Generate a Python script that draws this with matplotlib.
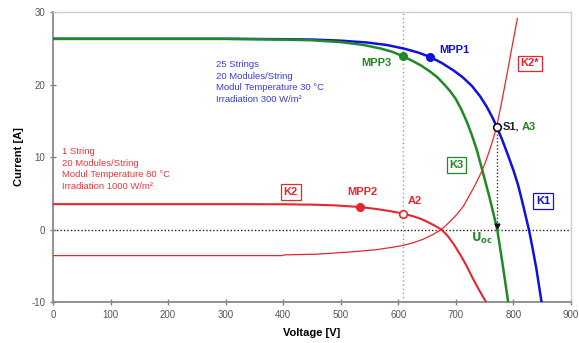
import matplotlib
matplotlib.use("Agg")
import matplotlib.pyplot as plt

plt.rcParams['font.family'] = ['Liberation Sans', 'DejaVu Sans']
plt.rcParams['axes.unicode_minus'] = False

# ---- data ----
k1_v = [0, 300, 400, 450, 500, 545, 580, 610, 635, 655, 675, 695, 712, 728, 742, 754, 764, 771, 780, 790, 800, 808, 815, 821, 827, 833, 840, 849]
k1_i = [26.3, 26.3, 26.25, 26.2, 26.05, 25.8, 25.45, 24.95, 24.4, 23.8, 23.0, 22.0, 21.0, 19.8, 18.4, 16.9, 15.4, 14.2, 12.5, 10.4, 8.2, 6.2, 4.0, 2.0, 0.0, -2.4, -5.4, -10.0]

k3_v = [0, 300, 400, 450, 500, 540, 570, 590, 608, 625, 640, 655, 668, 680, 690, 700, 710, 720, 728, 736, 745, 752, 759, 766, 772, 781, 791]
k3_i = [26.3, 26.3, 26.2, 26.1, 25.85, 25.45, 24.95, 24.5, 23.9, 23.25, 22.6, 21.8, 21.0, 20.0, 19.1, 18.0, 16.5, 14.7, 13.0, 11.1, 8.5, 6.4, 4.3, 2.0, 0.0, -4.6, -10.0]

k2_v = [0, 300, 400, 450, 490, 533, 560, 585, 608, 625, 640, 652, 663, 675, 686, 697, 708, 718, 728, 738, 746, 754]
k2_i = [3.5, 3.5, 3.48, 3.43, 3.33, 3.1, 2.85, 2.55, 2.2, 1.85, 1.45, 1.0, 0.55, 0.0, -0.9, -2.1, -3.5, -4.9, -6.5, -8.0, -9.1, -10.2]

k2s_v = [0, 398, 402, 460, 516, 560, 590, 608, 625, 643, 660, 675, 690, 702, 713, 723, 734, 745, 752, 759, 765, 771, 779, 788, 797, 807]
k2s_i = [-3.6, -3.6, -3.5, -3.4, -3.1, -2.8, -2.45, -2.2, -1.85, -1.35, -0.7, 0.0, 1.1, 2.1, 3.2, 4.6, 6.2, 8.0, 9.4, 11.0, 12.5, 14.2, 17.3, 21.0, 24.9, 29.1]

mpp1 = (655, 23.8)
mpp3 = (608, 23.9)
mpp2 = (533, 3.1)
a2 = (608, 2.2)
s1 = (771, 14.2)
u_oc = 771
v_a = 608

x_ticks = [0, 100, 200, 300, 400, 500, 600, 700, 800, 900]
y_ticks = [-10, 0, 10, 20, 30]

blue = '#1010e0'
green = '#1f8a24'
red = '#e8252d'
blue_txt = '#3a3ad8'
red_txt = '#e8353a'

fig = plt.figure(figsize=(5.79, 3.43), dpi=100)
ax = fig.add_axes([0.0915, 0.1195, 0.8945, 0.8455])
ax.set_xlim(0, 900)
ax.set_ylim(-10, 30)

# reference lines
ax.axhline(0, color='#222222', lw=1.0, ls=(0, (1, 1.5)), zorder=1)
ax.axvline(v_a, color='#6cc06c', lw=1.0, ls=(0, (1, 2)), zorder=1)
ax.plot([s1[0], u_oc], [s1[1], 0], color='#333333', lw=1.0, ls=(0, (1, 1.5)), zorder=1)
ax.plot([u_oc], [0.5], marker='v', color='#111111', markersize=3.5, zorder=5)

# curves
ax.plot(k1_v, k1_i, color=blue, lw=1.8, zorder=3, solid_joinstyle='round')
ax.plot(k3_v, k3_i, color=green, lw=1.8, zorder=3, solid_joinstyle='round')
ax.plot(k2_v, k2_i, color=red, lw=1.5, zorder=3, solid_joinstyle='round')
ax.plot(k2s_v, k2s_i, color=red, lw=0.9, zorder=3, solid_joinstyle='round')

# points
ax.plot(*mpp1, 'o', color=blue, markersize=5.5, zorder=6)
ax.plot(*mpp3, 'o', color=green, markersize=5.5, zorder=6)
ax.plot(*mpp2, 'o', color=red, markersize=5.5, zorder=6)
ax.plot(*a2, 'o', mfc='white', mec=red, mew=1.2, markersize=5.5, zorder=6)
ax.plot(*s1, 'o', mfc='white', mec='#111111', mew=1.2, markersize=5.5, zorder=6)

# labels
lab = dict(fontsize=8, fontweight='bold', va='center', ha='center')
ax.text(698, 24.8, 'MPP1', color=blue, **lab)
ax.text(562, 23.0, 'MPP3', color=green, **lab)
ax.text(537, 5.2, 'MPP2', color=red, **lab)
ax.text(628, 3.9, 'A2', color=red, **lab)
ax.text(782, 14.2, 'S1,', color='#222222', fontsize=8, fontweight='bold', va='center', ha='left')
ax.text(815, 14.2, 'A3', color=green, fontsize=8, fontweight='bold', va='center', ha='left')
ax.text(746, -1.3, r'$\mathbf{U}_{\mathbf{oc}}$', color=green, fontsize=8.5, va='center', ha='center')

def box(x, y, s, c):
    ax.text(x, y, s, color=c, fontsize=8, fontweight='bold', va='center', ha='center',
            bbox=dict(boxstyle='square,pad=0.25', fc='white', ec=c, lw=0.9), zorder=7)

box(829, 22.9, 'K2*', red)
box(701, 8.9, 'K3', green)
box(852, 3.9, 'K1', blue)
box(413, 5.2, 'K2', red)

ax.text(283, 23.4, '25 Strings\n20 Modules/String\nModul Temperature 30 °C\nIrradiation 300 W/m²',
        color=blue_txt, fontsize=6.8, va='top', ha='left', linespacing=1.38)
ax.text(15, 11.4, '1 String\n20 Modules/String\nModul Temperature 80 °C\nIrradiation 1000 W/m²',
        color=red_txt, fontsize=6.8, va='top', ha='left', linespacing=1.38)

# axes styling
ax.set_xticks(x_ticks)
ax.set_yticks(y_ticks)
ax.tick_params(axis='both', colors='#808080', labelcolor='#555555', labelsize=7,
               direction='inout', length=4, width=1)
for side in ('left', 'bottom'):
    ax.spines[side].set_color('#8a8a8a')
    ax.spines[side].set_linewidth(1.3)
for side in ('top', 'right'):
    ax.spines[side].set_color('#d0d0d0')
    ax.spines[side].set_linewidth(1.0)

ax.set_xlabel('Voltage [V]', fontsize=8, fontweight='bold', labelpad=6)
ax.set_ylabel('Current [A]', fontsize=8, fontweight='bold', labelpad=5)

fig.savefig('out.png', dpi=100)
